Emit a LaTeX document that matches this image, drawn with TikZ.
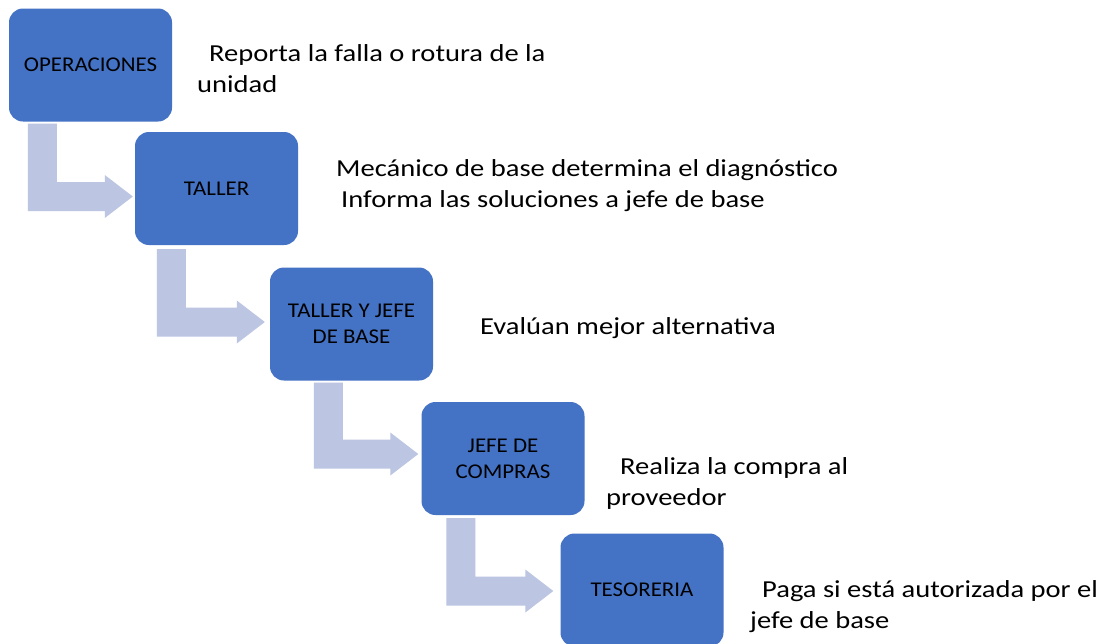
\documentclass[tikz,border=0pt]{standalone}
\usepackage{fontspec}
\setmainfont{Carlito}
\newfontfamily\descfont[FakeStretch=1.17]{Carlito}
\newfontfamily\boxfont[FakeStretch=1.09]{Carlito}
\usetikzlibrary{calc}
\definecolor{boxblue}{HTML}{4472C4}
\definecolor{arrowblue}{HTML}{BCC6E3}
% #1 from node, #2 to node, #3 stem offset from west, #4 gap below box, #5 gap before target, #6 signed centre offset
\newcommand\bentarrow[6]{%
  \fill[flow] let \p1=(#1.south west), \p2=(#2.west) in
    (\x1+#3pt,\y1-#4pt) -- (\x1+#3pt+29pt,\y1-#4pt)
    -- (\x1+#3pt+29pt,\y2#6+14.5pt) -- (\x2-#5pt-28pt,\y2#6+14.5pt)
    -- (\x2-#5pt-28pt,\y2#6+21.5pt) -- (\x2-#5pt,\y2#6)
    -- (\x2-#5pt-28pt,\y2#6-21.5pt) -- (\x2-#5pt-28pt,\y2#6-14.5pt)
    -- (\x1+#3pt,\y2#6-14.5pt) -- cycle;}
\begin{document}
\begin{tikzpicture}[x=1pt,y=-1pt,
  stepbox/.style={fill=boxblue, rounded corners=14pt, minimum width=163pt,
    minimum height=113pt, inner sep=0pt, align=center, text=black,
    font=\boxfont\fontsize{21}{26}\selectfont},
  desc/.style={anchor=base west, inner sep=0pt, align=left, text=black,
    font=\descfont\fontsize{24.4}{31}\selectfont},
  flow/.style={fill=arrowblue}]
\useasboundingbox (0,0) rectangle (1108,643);
\fill[white] (0,0) rectangle (1108,643);

\node[stepbox] (ops) at (90.5,65) {OPERACIONES};
\node[stepbox] (tal) at (216.5,188.5) {TALLER};
\node[stepbox] (tjb) at (351.5,324) {TALLER Y JEFE\\DE BASE};
\node[stepbox] (jdc) at (503,458.5) {JEFE DE\\COMPRAS};
\node[stepbox] (tes) at (642,590) {TESORERIA};

\bentarrow{ops}{tal}{19}{2}{2}{-8pt}
\bentarrow{tal}{tjb}{22}{4}{5}{+2pt}
\bentarrow{tjb}{jdc}{44}{2}{3}{+4.5pt}
\bentarrow{jdc}{tes}{25}{3}{7}{-1pt}

\node[desc] (d0) at (197,92) {\hspace{12pt}Reporta la falla o rotura de la\\unidad};
\node[desc] (d1) at (336,207) {Mecánico de base determina el diagnóstico\\\hspace{5pt}Informa las soluciones a jefe de base};
\node[desc] (d2) at (480,334) {Evalúan mejor alternativa};
\node[desc] (d3) at (606,505) {\hspace{14pt}Realiza la compra al\\proveedor};
\node[desc] (d4) at (750,628) {\hspace{12pt}Paga si está autorizada por el\\jefe de base};
\end{tikzpicture}
\end{document}
